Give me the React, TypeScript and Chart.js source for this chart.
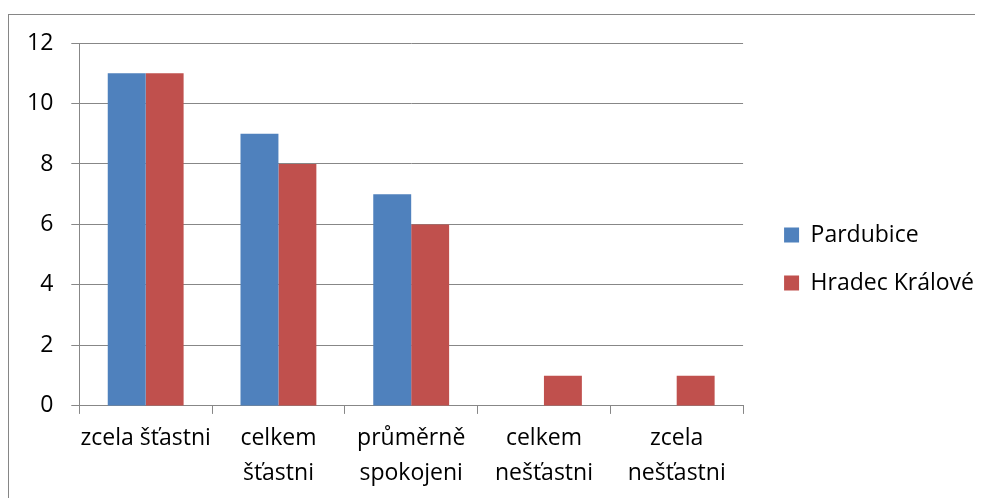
import React, { useEffect, useRef } from "react";
import { Chart, registerables } from "chart.js";

Chart.register(...registerables);

const categories: string[][] = [
  ["zcela šťastni"],
  ["celkem", "šťastni"],
  ["průměrně", "spokojeni"],
  ["celkem", "nešťastni"],
  ["zcela", "nešťastni"],
];
const seriesNames = ["Pardubice", "Hradec Králové"];
const pardubice = [11, 9, 7, 0, 0];
const hradecKralove = [11, 8, 6, 1, 1];
const yTicksMin = 0;
const yTicksMax = 12;
const yTicksStep = 2;

const FONT = "'Open Sans', Lato, sans-serif";
const GRID = "#878787";

const legendShift = {
  id: "legendShift",
  afterLayout(chart: any) {
    const lg = chart.legend;
    if (!lg) return;
    const pad = lg.options.labels.padding;
    const desiredLeft = chart.chartArea.right + 41 - pad;
    const dx = desiredLeft - lg.left;
    lg.left += dx;
    lg.right += dx;
    const colH = lg.columnSizes && lg.columnSizes[0] ? lg.columnSizes[0].height : 0;
    const desiredCenter = 244; // canvas coords
    const curStart = (lg.top + pad + lg.bottom - colH) / 2;
    const curCenter = curStart + (colH - pad) / 2;
    const dy = desiredCenter - curCenter;
    lg.top += dy;
    lg.bottom += dy;
  },
};

export default function App() {
  const ref = useRef<HTMLCanvasElement>(null);
  useEffect(() => {
    if (!ref.current) return;
    const chart = new Chart(ref.current, {
      type: "bar",
      data: {
        labels: categories,
        datasets: [
          {
            label: seriesNames[0],
            data: pardubice,
            backgroundColor: "#4F81BD",
            barPercentage: 1,
            categoryPercentage: 2 / 3.5,
          },
          {
            label: seriesNames[1],
            data: hradecKralove,
            backgroundColor: "#C0504D",
            barPercentage: 1,
            categoryPercentage: 2 / 3.5,
          },
        ],
      },
      options: {
        animation: false,
        responsive: false,
        devicePixelRatio: 1,
        layout: { padding: { top: 28, left: 0, right: 14, bottom: 0 } },
        plugins: {
          tooltip: { enabled: false },
          legend: {
            position: "right",
            labels: {
              boxWidth: 15,
              boxHeight: 15,
              padding: 25,
              color: "#000",
              font: { family: FONT, size: 23 },
            },
          },
        },
        scales: {
          x: {
            grid: {
              display: true,
              drawOnChartArea: false,
              drawTicks: true,
              tickLength: 8,
              color: GRID,
              offset: true,
            },
            border: { display: true, color: GRID, width: 1 },
            ticks: {
              color: "#000",
              font: { family: FONT, size: 23, lineHeight: 1.48 },
              padding: 8,
              maxRotation: 0,
              autoSkip: false,
            },
          },
          y: {
            min: yTicksMin,
            max: yTicksMax,
            grid: { color: GRID, tickLength: 8, drawTicks: true },
            border: { display: true, color: GRID, width: 1 },
            ticks: {
              stepSize: yTicksStep,
              color: "#000",
              font: { family: FONT, size: 23, lineHeight: 0.8 },
              padding: 18,
            },
          },
        },
      },
      plugins: [legendShift],
    });
    return () => chart.destroy();
  }, []);
  return (
    <div
      style={{
        marginTop: 6,
        width: 975,
        height: 520,
        boxSizing: "border-box",
        border: "1px solid #868686",
        background: "#fff",
      }}
    >
      <canvas ref={ref} width={973} height={483} style={{ display: "block" }} />
    </div>
  );
}
